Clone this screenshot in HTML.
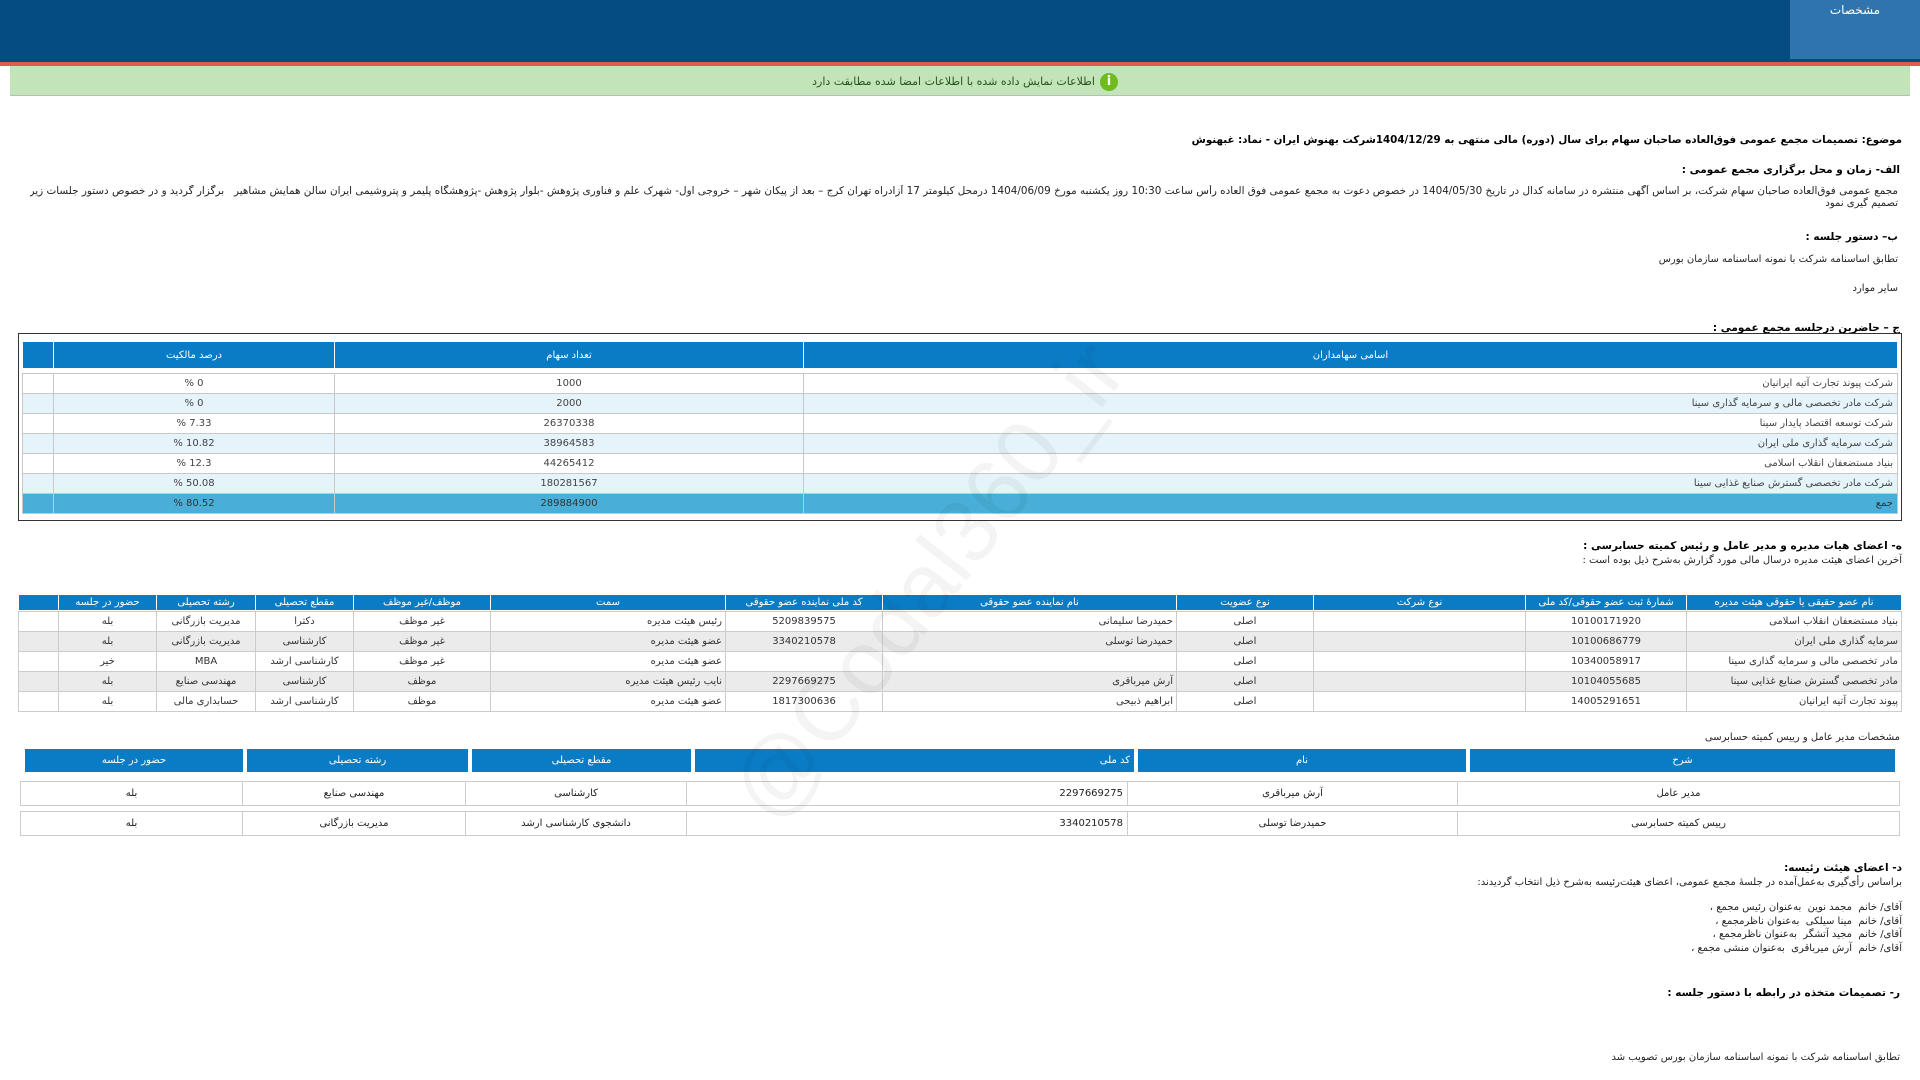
<!DOCTYPE html>
<html><head><meta charset="utf-8">
<style>
*{margin:0;padding:0;box-sizing:border-box}
body{width:1920px;height:1080px;position:relative;overflow:hidden;background:#fff;font-family:"DejaVu Sans","Liberation Sans",sans-serif;font-size:10px;color:#222}
.a{position:absolute;white-space:nowrap}
.r{direction:rtl;text-align:right}
.b{font-weight:bold;color:#000;font-size:10.5px}
table{position:absolute;border-collapse:collapse;table-layout:fixed;direction:ltr}
td{font-size:10px;overflow:hidden;white-space:nowrap;direction:rtl}
td.l{direction:ltr}
.t1 td{height:20px;border:1px solid #c8c8c8;text-align:center;color:#444}
.t1 tr:nth-child(even) td{background:#e5f3fa}
.t1 td.n{text-align:right;padding-right:4px}
.t1 tr.tot td{background:#4aafd8;color:#333}
.t2 td{height:20px;border:1px solid #ccc;text-align:center;color:#333}
.t2 tr:nth-child(even) td{background:#ebebeb}
.t2 td.n{text-align:right;padding-right:3px}
.h td{background:#0a7cc6;color:#fff;border:1px solid #fff;text-align:center}
.t3 td{border:1px solid #ccc;height:24px;text-align:center;color:#222}
</style></head><body>
<div class="a" style="left:0;top:0;width:1920px;height:62px;background:#044c81"></div>
<div class="a" style="left:0;top:62px;width:1920px;height:4px;background:#e05a55"></div>
<div class="a" style="left:1790px;top:0;width:130px;height:59px;background:#2f74ad"></div>
<div class="a" style="left:1790px;top:3px;width:130px;text-align:center;color:#fff;font-size:12px">مشخصات</div>
<div class="a" style="left:10px;top:66px;width:1900px;height:30px;background:#c3e3b8;border-bottom:1px solid #bbb"></div>
<div class="a r" style="left:600px;top:75px;width:495px;color:#24551c;font-size:11px">اطلاعات نمایش داده شده با اطلاعات امضا شده مطابقت دارد</div>
<div class="a" style="left:1100px;top:73px;width:18px;height:18px;border-radius:50%;background:#6dbb1f;color:#fff;font-weight:bold;text-align:center;font-size:13px;line-height:18px">i</div>

<div class="a r b" style="right:18px;top:134px;font-size:10.3px">موضوع: تصمیمات مجمع عمومی فوق‌العاده صاحبان سهام برای سال (دوره) مالی منتهی به 1404/12/29شرکت بهنوش ایران - نماد: غبهنوش</div>
<div class="a r b" style="right:20px;top:164px">الف- زمان و محل برگزاری مجمع عمومی :</div>
<div class="a r" style="right:22px;top:185px;width:1868px;overflow:hidden;font-size:10.4px">مجمع عمومی فوق‌العاده صاحبان سهام شرکت، بر اساس آگهی منتشره در سامانه کدال در تاریخ 1404/05/30 در خصوص دعوت به مجمع عمومی فوق العاده رأس ساعت 10:30 روز یکشنبه مورخ 1404/06/09 درمحل کیلومتر 17 آزادراه تهران کرج – بعد از پیکان شهر – خروجی اول- شهرک علم و فناوری پژوهش -بلوار پژوهش -پژوهشگاه پلیمر و پتروشیمی ایران سالن همایش مشاهیر &nbsp; برگزار گردید و در خصوص دستور جلسات زیر</div>
<div class="a r" style="right:22px;top:198px">تصمیم گیری نمود</div>
<div class="a r b" style="right:22px;top:231px">ب– دستور جلسه :</div>
<div class="a r" style="right:22px;top:254px">تطابق اساسنامه شرکت با نمونه اساسنامه سازمان بورس</div>
<div class="a r" style="right:22px;top:283px">سایر موارد</div>
<div class="a r b" style="right:20px;top:322px">ج – حاضرین درجلسه مجمع عمومی :</div>

<div class="a" style="left:18px;top:333px;width:1884px;height:188px;border:1px solid #333"></div>
<table class="h" style="left:22px;top:341px;width:1876px"><tr style="height:27px"><td style="width:31px"></td><td style="width:281px">درصد مالکیت</td><td style="width:469px">تعداد سهام</td><td>اسامی سهامداران</td></tr></table>
<table class="t1" style="left:22px;top:373px;width:1876px">
<col style="width:31px"><col style="width:281px"><col style="width:469px"><col>
<tr><td></td><td class="l"><bdo dir="ltr">% 0</bdo></td><td>1000</td><td class="n">شرکت پیوند تجارت آتیه ایرانیان</td></tr>
<tr><td></td><td class="l"><bdo dir="ltr">% 0</bdo></td><td>2000</td><td class="n">شرکت مادر تخصصی مالی و سرمایه گذاری سینا</td></tr>
<tr><td></td><td class="l"><bdo dir="ltr">% 7.33</bdo></td><td>26370338</td><td class="n">شرکت توسعه اقتصاد پایدار سینا</td></tr>
<tr><td></td><td class="l"><bdo dir="ltr">% 10.82</bdo></td><td>38964583</td><td class="n">شرکت سرمایه گذاری ملی ایران</td></tr>
<tr><td></td><td class="l"><bdo dir="ltr">% 12.3</bdo></td><td>44265412</td><td class="n">بنیاد مستضعفان انقلاب اسلامی</td></tr>
<tr><td></td><td class="l"><bdo dir="ltr">% 50.08</bdo></td><td>180281567</td><td class="n">شرکت مادر تخصصی گسترش صنایع غذایی سینا</td></tr>
<tr class="tot"><td></td><td class="l"><bdo dir="ltr">% 80.52</bdo></td><td>289884900</td><td class="n">جمع</td></tr>
</table>

<div class="a r b" style="right:18px;top:540px">ه- اعضای هیات مدیره و مدیر عامل و رئیس کمیته حسابرسی :</div>
<div class="a r" style="right:18px;top:555px">آخرین اعضای هیئت مدیره درسال مالی مورد گزارش به‌شرح ذیل بوده است :</div>

<table class="h" style="left:18px;top:594px;width:1884px"><tr style="height:16px">
<td style="width:40px"></td><td style="width:98px">حضور در جلسه</td><td style="width:99px">رشته تحصیلی</td><td style="width:98px">مقطع تحصیلی</td><td style="width:137px">موظف/غیر موظف</td><td style="width:235px">سمت</td><td style="width:157px">کد ملی نماینده عضو حقوقی</td><td style="width:294px">نام نماینده عضو حقوقی</td><td style="width:137px">نوع عضویت</td><td style="width:212px">نوع شرکت</td><td style="width:161px">شمارهٔ ثبت عضو حقوقی/کد ملی</td><td>نام عضو حقیقی یا حقوقی هیئت مدیره</td></tr></table>
<table class="t2" style="left:18px;top:611px;width:1884px">
<col style="width:40px"><col style="width:98px"><col style="width:99px"><col style="width:98px"><col style="width:137px"><col style="width:235px"><col style="width:157px"><col style="width:294px"><col style="width:137px"><col style="width:212px"><col style="width:161px"><col>
<tr><td></td><td>بله</td><td>مدیریت بازرگانی</td><td>دکترا</td><td>غیر موظف</td><td class="n">رئیس هیئت مدیره</td><td>5209839575</td><td class="n">حمیدرضا سلیمانی</td><td>اصلی</td><td></td><td>10100171920</td><td class="n">بنیاد مستضعفان انقلاب اسلامی</td></tr>
<tr><td></td><td>بله</td><td>مدیریت بازرگانی</td><td>کارشناسی</td><td>غیر موظف</td><td class="n">عضو هیئت مدیره</td><td>3340210578</td><td class="n">حمیدرضا توسلی</td><td>اصلی</td><td></td><td>10100686779</td><td class="n">سرمایه گذاری ملی ایران</td></tr>
<tr><td></td><td>خیر</td><td>MBA</td><td>کارشناسی ارشد</td><td>غیر موظف</td><td class="n">عضو هیئت مدیره</td><td></td><td class="n"></td><td>اصلی</td><td></td><td>10340058917</td><td class="n">مادر تخصصی مالی و سرمایه گذاری سینا</td></tr>
<tr><td></td><td>بله</td><td>مهندسی صنایع</td><td>کارشناسی</td><td>موظف</td><td class="n">نایب رئیس هیئت مدیره</td><td>2297669275</td><td class="n">آرش میرباقری</td><td>اصلی</td><td></td><td>10104055685</td><td class="n">مادر تخصصی گسترش صنایع غذایی سینا</td></tr>
<tr><td></td><td>بله</td><td>حسابداری مالی</td><td>کارشناسی ارشد</td><td>موظف</td><td class="n">عضو هیئت مدیره</td><td>1817300636</td><td class="n">ابراهیم ذبیحی</td><td>اصلی</td><td></td><td>14005291651</td><td class="n">پیوند تجارت آتیه ایرانیان</td></tr>
</table>

<div class="a r" style="right:20px;top:732px">مشخصات مدیر عامل و رییس کمیته حسابرسی</div>
<table class="h" style="left:22px;top:748px;width:1876px;border-collapse:separate;border-spacing:2px 0"><tr style="height:25px">
<td style="width:220px">حضور در جلسه</td><td style="width:223px">رشته تحصیلی</td><td style="width:221px">مقطع تحصیلی</td><td style="width:441px;text-align:right;padding-right:4px">کد ملی</td><td style="width:330px">نام</td><td>شرح</td></tr></table>
<table class="t3" style="left:20px;top:781px;width:1880px"><tr>
<td style="width:222px">بله</td><td style="width:223px">مهندسی صنایع</td><td style="width:221px">کارشناسی</td><td style="width:441px;text-align:right;padding-right:4px">2297669275</td><td style="width:330px">آرش میرباقری</td><td>مدیر عامل</td></tr></table>
<table class="t3" style="left:20px;top:811px;width:1880px"><tr>
<td style="width:222px">بله</td><td style="width:223px">مدیریت بازرگانی</td><td style="width:221px">دانشجوی کارشناسی ارشد</td><td style="width:441px;text-align:right;padding-right:4px">3340210578</td><td style="width:330px">حمیدرضا توسلی</td><td>رییس کمیته حسابرسی</td></tr></table>

<div class="a r b" style="right:18px;top:862px">د- اعضای هیئت رئیسه:</div>
<div class="a r" style="right:18px;top:877px">براساس رأی‌گیری به‌عمل‌آمده در جلسهٔ مجمع عمومی، اعضای هیئت‌رئیسه به‌شرح ذیل انتخاب گردیدند:</div>
<div class="a r" style="right:18px;top:902px">آقای/ خانم &nbsp;مجمد نوین &nbsp;به‌عنوان رئیس مجمع ،</div>
<div class="a r" style="right:18px;top:916px">آقای/ خانم &nbsp;مینا سیلکی &nbsp;به‌عنوان ناظرمجمع ،</div>
<div class="a r" style="right:18px;top:929px">آقای/ خانم &nbsp;مجید آتشگر &nbsp;به‌عنوان ناظرمجمع ،</div>
<div class="a r" style="right:18px;top:943px">آقای/ خانم &nbsp;آرش میرباقری &nbsp;به‌عنوان منشی مجمع ،</div>
<div class="a r b" style="right:20px;top:987px">ر- تصمیمات متخذه در رابطه با دستور جلسه :</div>
<div class="a r" style="right:20px;top:1052px">تطابق اساسنامه شرکت با نمونه اساسنامه سازمان بورس تصویب شد</div>

<div class="a" style="left:640px;top:530px;font-size:90px;color:rgba(0,0,0,0.045);font-family:'Liberation Sans',sans-serif;transform:rotate(-52deg);transform-origin:center">@Codal360_ir</div>
</body></html>
